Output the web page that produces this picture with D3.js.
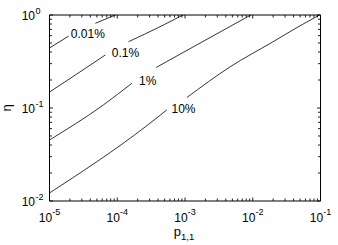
<!DOCTYPE html>
<html lang="en">
<head>
    <meta charset="UTF-8">
    <title>Contours</title>
    <script src="https://d3js.org/d3.v7.min.js"></script>
    <style>
        body { margin: 0; background: #fff; }
        svg text { font-family: "Liberation Sans", Arial, Helvetica, sans-serif; fill: #000; }
    </style>
</head>
<body>
    <div id="chart"></div>
    <script>
        // contour levels, each one split in two pieces around its label: [p, eta]
        const levelNames = ["0.01%", "0.1%", "1%", "10%"];

        const level001 = [
            [[1e-5, 0.442], [1.92e-5, 0.594]],
            [[4.75e-5, 0.814], [9.35e-5, 1.0]]
        ];
        const level01 = [
            [[1e-5, 0.1486], [2.41e-5, 0.2264], [6.66e-5, 0.3714]],
            [[1.466e-4, 0.516], [4.28e-4, 0.748], [9.35e-4, 1.0]]
        ];
        const level1 = [
            [[1e-5, 0.0453], [6.22e-5, 0.1077], [1.644e-4, 0.1844]],
            [[3.75e-4, 0.2726], [1.486e-3, 0.476], [9.35e-3, 1.0]]
        ];
        const level10 = [
            [[1e-5, 0.0122], [2.58e-4, 0.0625], [5.38e-4, 0.0952]],
            [[1.069e-3, 0.1297], [4.59e-3, 0.276], [0.01968, 0.513], [0.0491, 0.761], [0.0966, 1.0]]
        ];

        // label centres (p, eta)
        const labelP = [3.68e-5, 1.325e-4, 2.81e-4, 9.51e-4];
        const labelEta = [0.625, 0.390, 0.1975, 0.0976];

        const xTickExp = [-5, -4, -3, -2, -1];
        const yTickExp = [-2, -1, 0];

        const width = 338, height = 245;
        const mLeft = 49.5, mRight = 320.5, mTop = 15, mBottom = 201;

        const x = d3.scaleLog().domain([1e-5, 1e-1]).range([mLeft, mRight]);
        const y = d3.scaleLog().domain([1e-2, 1]).range([mBottom, mTop]);

        const svg = d3.select("#chart").append("svg")
            .attr("width", width)
            .attr("height", height);

        // minor + major tick values
        const xMinor = [];
        for (let k = -5; k < -1; k++) for (let m = 2; m <= 9; m++) xMinor.push(m * Math.pow(10, k));
        const yMinor = [];
        for (let k = -2; k < 0; k++) for (let m = 2; m <= 9; m++) yMinor.push(m * Math.pow(10, k));
        const xMajor = xTickExp.map(e => Math.pow(10, e));
        const yMajor = yTickExp.map(e => Math.pow(10, e));

        const ticks = svg.append("g").attr("stroke", "#222").attr("stroke-width", 1);
        const majLen = 3.5, minLen = 2.5;

        xMajor.concat(xMinor).forEach((v, i) => {
            const len = i < xMajor.length ? majLen : minLen;
            const px = x(v);
            ticks.append("line").attr("x1", px).attr("x2", px).attr("y1", mBottom).attr("y2", mBottom - len);
            ticks.append("line").attr("x1", px).attr("x2", px).attr("y1", mTop).attr("y2", mTop + len);
        });
        yMajor.concat(yMinor).forEach((v, i) => {
            const len = i < yMajor.length ? majLen : minLen;
            const py = y(v);
            ticks.append("line").attr("x1", mLeft).attr("x2", mLeft + len).attr("y1", py).attr("y2", py);
            ticks.append("line").attr("x1", mRight).attr("x2", mRight - len).attr("y1", py).attr("y2", py);
        });

        // frame
        const frame = svg.append("g").attr("stroke", "#000").attr("stroke-width", 1).attr("fill", "none");
        frame.append("line").attr("x1", mLeft).attr("x2", mLeft).attr("y1", mTop).attr("y2", mBottom);
        frame.append("line").attr("x1", mRight).attr("x2", mRight).attr("y1", mTop).attr("y2", mBottom);
        frame.append("line").attr("x1", mLeft).attr("x2", mRight).attr("y1", mTop).attr("y2", mTop);
        frame.append("line").attr("x1", mLeft).attr("x2", mRight).attr("y1", mBottom).attr("y2", mBottom);

        // x tick labels
        xTickExp.forEach(e => {
            const t = svg.append("text")
                .attr("x", x(Math.pow(10, e)))
                .attr("y", 222)
                .attr("text-anchor", "middle")
                .attr("font-size", 12)
                .text("10");
            t.append("tspan").attr("dy", -7).attr("font-size", 9).text(String(e));
        });

        // y tick labels
        yTickExp.forEach(e => {
            const py = y(Math.pow(10, e));
            svg.append("text")
                .attr("x", 35)
                .attr("y", py + 5)
                .attr("text-anchor", "end")
                .attr("font-size", 12)
                .text("10");
            svg.append("text")
                .attr("x", 35.5)
                .attr("y", py - 1.5)
                .attr("font-size", 9)
                .text(String(e));
        });

        // axis labels
        const xl = svg.append("text")
            .attr("x", 184)
            .attr("y", 236)
            .attr("text-anchor", "middle")
            .attr("font-size", 13)
            .text("p");
        xl.append("tspan").attr("dy", 4).attr("font-size", 9.5).text("1,1");

        svg.append("text")
            .attr("transform", "translate(11,108) rotate(-90)")
            .attr("text-anchor", "middle")
            .attr("font-size", 13)
            .text("η");

        // contour lines
        const line = d3.line()
            .x(d => x(d[0]))
            .y(d => y(d[1]))
            .curve(d3.curveMonotoneX);

        const levels = [level001, level01, level1, level10];
        const lines = svg.append("g")
            .attr("fill", "none")
            .attr("stroke", "#000")
            .attr("stroke-width", 0.8);
        levels.forEach(lv => {
            lv.forEach(seg => {
                lines.append("path").attr("d", line(seg));
            });
        });

        // contour labels
        levelNames.forEach((name, i) => {
            svg.append("text")
                .attr("x", x(labelP[i]))
                .attr("y", y(labelEta[i]))
                .attr("dy", "0.36em")
                .attr("text-anchor", "middle")
                .attr("font-size", 12)
                .text(name);
        });
    </script>
</body>
</html>
